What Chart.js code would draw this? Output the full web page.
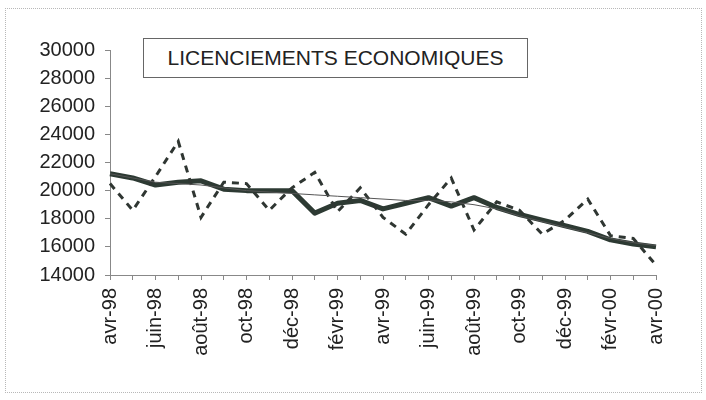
<!DOCTYPE html>
<html>
<head>
<meta charset="utf-8">
<script src="https://cdn.jsdelivr.net/npm/chart.js@4.4.1/dist/chart.umd.min.js"></script>
<style>
  body { margin: 0; background: #fff; }
  #wrap { position: relative; width: 706px; height: 400px; }
  #frame { position: absolute; left: 5px; top: 8px; width: 695px; height: 383px; border: 1px dotted #b8b8b8; }
  #titre {
    position: absolute; left: 143px; top: 38px; width: 383px; height: 38px;
    border: 1px solid #666; background: #fff; color: #222;
    font: 21px "Liberation Sans", Arial, sans-serif; line-height: 38px; text-align: center;
  }
  canvas { position: absolute; left: 0; top: 0; }
</style>
</head>
<body>
<div id="wrap">
  <div id="frame"></div>
  <canvas id="chart" width="706" height="400"></canvas>
  <div id="titre">LICENCIEMENTS ECONOMIQUES</div>
</div>
<script>
// données ===========================================================
const mois = ["avr-98", "mai-98", "juin-98", "juil-98", "août-98", "sept-98", "oct-98", "nov-98", "déc-98",
  "janv-99", "févr-99", "mars-99", "avr-99", "mai-99", "juin-99", "juil-99", "août-99", "sept-99", "oct-99",
  "nov-99", "déc-99", "janv-00", "févr-00", "mars-00", "avr-00"];

// série brute (pointillés)
const brut = [20500, 18600, 21000, 23500, 18100, 20600, 20500, 18600, 20200, 21300, 18500, 20200,
  18100, 16900, 19000, 20900, 17200, 19200, 18600, 16900, 17900, 19400, 16800, 16600, 14700];

// série lissée (trait épais)
const lisse = [21200, 20900, 20400, 20600, 20700, 20100, 20000, 20000, 20000, 18400, 19100, 19300,
  18700, 19100, 19500, 18900, 19500, 18800, 18300, 17900, 17500, 17100, 16500, 16200, 16000];

// tendance (trait fin)
const tendance = [21200, 20900, 20600, 20500, 20400, 20200, 20000, 19900, 19800, 19700, 19600, 19500,
  19400, 19300, 19300, 19200, 19000, 18700, 18200, 17800, 17400, 17000, 16600, 16300, 16100];

const yMin = 14000;
const yMax = 30000;
const yPas = 2000;

const police = "'Liberation Sans', Arial, sans-serif";

new Chart(document.getElementById("chart"), {
  type: "line",
  data: {
    labels: mois,
    datasets: [
      {
        label: "tendance",
        data: tendance,
        borderColor: "#555",
        borderWidth: 1,
        pointRadius: 0,
        tension: 0,
      },
      {
        label: "brut",
        data: brut,
        borderColor: "#2f3632",
        borderWidth: 3,
        borderDash: [7, 6],
        pointRadius: 0,
        tension: 0,
      },
      {
        label: "lissé",
        data: lisse,
        borderColor: "#2d3a33",
        borderWidth: 5,
        pointRadius: 0,
        tension: 0,
        borderJoinStyle: "round",
      },
    ],
  },
  options: {
    responsive: false,
    devicePixelRatio: 1,
    animation: false,
    layout: { padding: { left: 0, top: 50, right: 50, bottom: 0 } },
    plugins: { legend: { display: false }, tooltip: { enabled: false } },
    scales: {
      x: {
        offset: false,
        afterFit: (s) => { s.height = 125; },
        grid: { drawOnChartArea: false, color: "#888", tickLength: 5 },
        border: { display: true, color: "#888", dash: [2, 2] },
        ticks: {
          autoSkip: false,
          maxRotation: 90,
          minRotation: 90,
          padding: 8,
          color: "#222",
          font: { family: police, size: 20 },
          callback: (v, i) => (i % 2 === 0 ? mois[i] : ""),
        },
      },
      y: {
        min: yMin,
        max: yMax,
        afterFit: (s) => { s.width = 110; },
        grid: { drawOnChartArea: false, color: "#888", tickLength: 5 },
        border: { display: true, color: "#888", dash: [2, 2] },
        ticks: {
          stepSize: yPas,
          padding: 10,
          color: "#222",
          font: { family: police, size: 20 },
          callback: (v) => String(v),
        },
      },
    },
  },
});
</script>
</body>
</html>
